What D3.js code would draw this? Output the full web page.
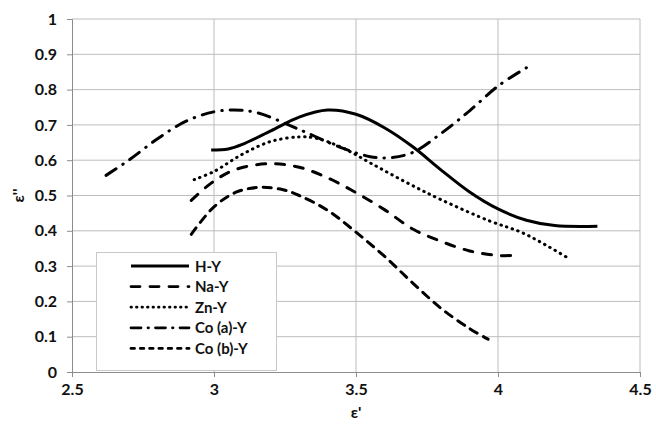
<!DOCTYPE html>
<html>
<head>
<meta charset="utf-8">
<script src="https://cdn.jsdelivr.net/npm/d3@7"></script>
<style>
  html, body { margin: 0; padding: 0; background: #fff; }
  svg { display: block; }
  text { font-family: Lato, "Open Sans", "Liberation Sans", sans-serif; font-weight: bold; fill: #111; }
</style>
</head>
<body>
<svg id="chart" width="656" height="426"></svg>
<script>
// ε' (x) and ε'' (y) readings for each zeolite sample
const seriesNames = ["H-Y", "Na-Y", "Zn-Y", "Co (a)-Y", "Co (b)-Y"];

const hY = [[2.99,0.629],[3.05,0.632],[3.1,0.645],[3.2,0.683],[3.3,0.722],[3.4,0.742],[3.5,0.73],[3.6,0.692],[3.7,0.638],[3.8,0.572],[3.9,0.51],[4.0,0.462],[4.1,0.43],[4.2,0.415],[4.35,0.413]];
const naY = [[2.92,0.486],[2.99,0.535],[3.07,0.572],[3.19,0.59],[3.3,0.58],[3.4,0.55],[3.5,0.508],[3.6,0.46],[3.7,0.405],[3.8,0.37],[3.9,0.343],[4.0,0.33],[4.05,0.33]];
const znY = [[2.93,0.545],[3.0,0.568],[3.1,0.617],[3.2,0.653],[3.3,0.666],[3.36,0.662],[3.45,0.636],[3.56,0.588],[3.68,0.536],[3.8,0.488],[3.97,0.428],[4.09,0.393],[4.24,0.326]];
const coAY = [[2.62,0.557],[2.7,0.6],[2.8,0.66],[2.9,0.71],[3.0,0.737],[3.07,0.742],[3.15,0.735],[3.3,0.687],[3.45,0.635],[3.55,0.61],[3.62,0.607],[3.7,0.622],[3.8,0.676],[3.9,0.74],[4.0,0.81],[4.1,0.862]];
const coBY = [[2.92,0.39],[3.0,0.468],[3.08,0.51],[3.16,0.523],[3.24,0.517],[3.3,0.5],[3.4,0.458],[3.5,0.396],[3.6,0.328],[3.7,0.252],[3.8,0.18],[3.9,0.123],[3.965,0.093]];

const xTicks = [2.5, 3, 3.5, 4, 4.5];
const yTicks = [0, 0.1, 0.2, 0.3, 0.4, 0.5, 0.6, 0.7, 0.8, 0.9, 1];

// dash patterns are drawn with round caps, so each dash grows by the stroke width
const series = [
  { name: seriesNames[0], values: hY,  dash: null, keyDash: null },
  { name: seriesNames[1], values: naY, dash: "9,10", keyDash: "9,10" },
  { name: seriesNames[2], values: znY, dash: "0.5,5.5", keyDash: "0.5,5" },
  { name: seriesNames[3], values: coAY, dash: "12,8,0.5,8", keyDash: "10,7,0.5,7" },
  { name: seriesNames[4], values: coBY, dash: "8,7", keyDash: "3.5,5.8" }
];

const svg = d3.select("#chart");
const x = d3.scaleLinear().domain([2.5, 4.5]).range([72, 640]);
const y = d3.scaleLinear().domain([0, 1]).range([372, 19]);

// gridlines
svg.append("g").selectAll("line").data(yTicks.filter(d => d > 0)).join("line")
  .attr("x1", x(2.5)).attr("x2", x(4.5))
  .attr("y1", d => y(d)).attr("y2", d => y(d))
  .attr("stroke", "#bdbdbd").attr("stroke-width", 1);
svg.append("g").selectAll("line").data(xTicks.filter(d => d > 2.5)).join("line")
  .attr("x1", d => x(d)).attr("x2", d => x(d))
  .attr("y1", y(0)).attr("y2", y(1))
  .attr("stroke", "#bdbdbd").attr("stroke-width", 1);

// axes
const xAxis = svg.append("g").attr("transform", `translate(0,${y(0)})`)
  .call(d3.axisBottom(x).tickValues(xTicks).tickSize(5).tickPadding(7).tickFormat(d3.format("")));
const yAxis = svg.append("g").attr("transform", `translate(${x(2.5)},0)`)
  .call(d3.axisLeft(y).tickValues(yTicks).tickSize(5).tickPadding(10).tickFormat(d3.format("")));
[xAxis, yAxis].forEach(g => {
  g.select(".domain").attr("stroke", "#8c8c8c");
  g.selectAll(".tick line").attr("stroke", "#8c8c8c");
  g.selectAll(".tick text").style("font-size", "16px").style("font-family", "Lato, sans-serif").style("font-weight", "bold").attr("fill", "#111");
});

// axis titles
svg.append("text").attr("x", x(3.5)).attr("y", 418).attr("text-anchor", "middle")
  .style("font-size", "16px").text("ε'");
svg.append("text").attr("transform", `translate(24,${y(0.5)}) rotate(-90)`).attr("text-anchor", "middle")
  .style("font-size", "16px").text("ε''");

// curves
const line = d3.line().x(d => x(d[0])).y(d => y(d[1])).curve(d3.curveCatmullRom.alpha(0.5));
svg.append("g").selectAll("path").data(series).join("path")
  .attr("d", d => line(d.values))
  .attr("fill", "none").attr("stroke", "#000").attr("stroke-width", 3)
  .attr("stroke-linecap", d => d.dash ? "round" : "butt")
  .attr("stroke-dasharray", d => d.dash);

// legend
const lg = svg.append("g");
lg.append("rect").attr("x", 96.5).attr("y", 252.5).attr("width", 180).attr("height", 118)
  .attr("fill", "#fff").attr("stroke", "#c8c8c8");
const rows = lg.selectAll("g").data(series).join("g")
  .attr("transform", (d, i) => `translate(0,${266 + i * 20.6})`);
rows.append("line").attr("x1", 131).attr("x2", 189).attr("y1", 0).attr("y2", 0)
  .attr("stroke", "#000").attr("stroke-width", 2.8)
  .attr("stroke-linecap", d => d.keyDash ? "round" : "butt")
  .attr("stroke-dasharray", d => d.keyDash);
rows.append("text").attr("x", 195).attr("y", 5.5).style("font-size", "15px").text(d => d.name);
</script>
</body>
</html>
